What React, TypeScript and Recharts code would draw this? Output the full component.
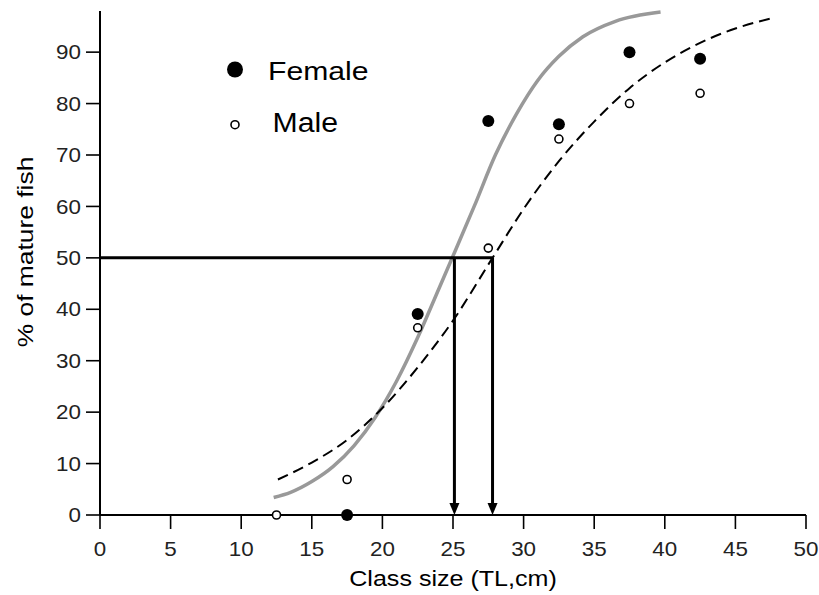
import { ComposedChart, Legend, Line, ReferenceLine, Scatter, XAxis, YAxis } from 'recharts'

const FONT = 'Liberation Sans, Arial, Helvetica, sans-serif'

const xTicks = [0, 5, 10, 15, 20, 25, 30, 35, 40, 45, 50]
const yTicks = [0, 10, 20, 30, 40, 50, 60, 70, 80, 90]

// observed % mature by 5 cm class
const femaleObs = [
  { x: 17.5, y: 0 },
  { x: 22.5, y: 39.1 },
  { x: 27.5, y: 76.6 },
  { x: 32.5, y: 76 },
  { x: 37.5, y: 90 },
  { x: 42.5, y: 88.7 },
]
const maleObs = [
  { x: 12.5, y: 0 },
  { x: 17.5, y: 6.9 },
  { x: 22.5, y: 36.4 },
  { x: 27.5, y: 51.9 },
  { x: 32.5, y: 73.1 },
  { x: 37.5, y: 80 },
  { x: 42.5, y: 82 },
]

// fitted curves
const femaleFit = [
  { x: 12.3, y: 3.4 },
  { x: 13.5, y: 4.4 },
  { x: 15, y: 6.5 },
  { x: 16.5, y: 9.4 },
  { x: 18, y: 13.5 },
  { x: 19.5, y: 19 },
  { x: 21, y: 26 },
  { x: 22.5, y: 34.5 },
  { x: 24, y: 44 },
  { x: 25.1, y: 51 },
  { x: 26.5, y: 60 },
  { x: 28, y: 70 },
  { x: 29.5, y: 78 },
  { x: 31, y: 84.5 },
  { x: 32.5, y: 89.2 },
  { x: 34.2, y: 93 },
  { x: 36.5, y: 96 },
  { x: 39.7, y: 97.8 },
]
const maleFit = [
  { x: 12.6, y: 6.9 },
  { x: 15, y: 10.2 },
  { x: 17.5, y: 14.6 },
  { x: 20, y: 20.8 },
  { x: 22.5, y: 28.7 },
  { x: 25, y: 37.8 },
  { x: 27.8, y: 50 },
  { x: 30, y: 59.5 },
  { x: 32.5, y: 68.8 },
  { x: 35, y: 76.5 },
  { x: 37.5, y: 83 },
  { x: 40, y: 88 },
  { x: 42.5, y: 91.8 },
  { x: 45, y: 94.6 },
  { x: 47.6, y: 96.6 },
]

const halfMature = 50
const l50Female = 25.1
const l50Male = 27.8

const XTick = ({ x, y, payload }: any) => (
  <g transform={`translate(${x},${y})`}>
    <text transform="scale(1.12,1)" textAnchor="middle" dy="0.72em" fontSize={20} fill="#222" fontFamily={FONT}>
      {payload.value}
    </text>
  </g>
)

const YTick = ({ x, y, payload }: any) => (
  <g transform={`translate(${x},${y})`}>
    <text transform="scale(1.12,1)" textAnchor="end" dy="0.36em" fontSize={20} fill="#222" fontFamily={FONT}>
      {payload.value}
    </text>
  </g>
)

const XTitle = ({ viewBox }: any) => {
  const vb = viewBox || { x: 100, y: 515, width: 706, height: 60 }
  return (
    <text
      transform={`translate(${vb.x + vb.width / 2},${vb.y + 71}) scale(1.14,1)`}
      textAnchor="middle"
      fontSize={22}
      fill="#000"
      fontFamily={FONT}
    >
      Class size (TL,cm)
    </text>
  )
}

const YTitle = ({ viewBox }: any) => {
  const vb = viewBox || { x: 40, y: 11, width: 60, height: 504 }
  return (
    <text
      transform={`translate(${vb.x - 7},${vb.y + vb.height / 2 - 11}) rotate(-90) scale(1.2,1)`}
      textAnchor="middle"
      fontSize={22}
      fill="#000"
      fontFamily={FONT}
    >
      % of mature fish
    </text>
  )
}

const Arrow = (p: any) => {
  const { x1, y1, x2, y2 } = p
  const top = Math.min(y1, y2)
  const bottom = Math.max(y1, y2)
  return (
    <g>
      <line x1={x1} y1={top} x2={x2} y2={bottom - 10} stroke="#000" strokeWidth={3} />
      <polygon points={`${x1 - 5},${bottom - 12} ${x1 + 5},${bottom - 12} ${x1},${bottom}`} fill="#000" />
    </g>
  )
}

const FemaleDot = (p: any) => <circle cx={p.cx} cy={p.cy} r={6} fill="#000" />
const MaleDot = (p: any) => <circle cx={p.cx} cy={p.cy} r={4} fill="#fff" stroke="#000" strokeWidth={1.6} />

const KeyBox = () => (
  <svg width={180} height={95} style={{ fontFamily: FONT }}>
    <circle cx={15} cy={14.5} r={8} fill="#000" />
    <text transform="translate(48,24.5) scale(1.16,1)" fontSize={26} fill="#000">
      Female
    </text>
    <circle cx={15} cy={69.7} r={4} fill="#fff" stroke="#000" strokeWidth={1.6} />
    <text transform="translate(52.5,77) scale(1.12,1)" fontSize={27} fill="#000">
      Male
    </text>
  </svg>
)

export default function App() {
  return (
    <div style={{ position: 'absolute', left: 0, top: 0 }}>
      <ComposedChart width={819} height={595} margin={{ top: 11, right: 13, bottom: 20, left: 40 }}>
        <XAxis
          type="number"
          dataKey="x"
          domain={[0, 50]}
          ticks={xTicks}
          height={60}
          tickSize={14}
          tickMargin={13}
          tick={<XTick />}
          axisLine={{ stroke: '#000', strokeWidth: 2 }}
          tickLine={{ stroke: '#000', strokeWidth: 1.6 }}
          label={{ content: XTitle }}
        />
        <YAxis
          type="number"
          dataKey="y"
          domain={[0, 98]}
          ticks={yTicks}
          width={60}
          tickSize={14}
          tickMargin={5}
          tick={<YTick />}
          axisLine={{ stroke: '#000', strokeWidth: 2 }}
          tickLine={{ stroke: '#000', strokeWidth: 1.6 }}
          label={{ content: YTitle }}
        />
        <Line
          data={femaleFit}
          dataKey="y"
          type="monotone"
          stroke="#999"
          strokeWidth={3.5}
          dot={false}
          activeDot={false}
          isAnimationActive={false}
        />
        <Line
          data={maleFit}
          dataKey="y"
          type="monotone"
          stroke="#000"
          strokeWidth={2}
          strokeDasharray="11 6"
          dot={false}
          activeDot={false}
          isAnimationActive={false}
        />
        <ReferenceLine
          segment={[
            { x: 0, y: halfMature },
            { x: l50Male, y: halfMature },
          ]}
          stroke="#000"
          strokeWidth={3}
        />
        <ReferenceLine
          segment={[
            { x: l50Female, y: halfMature },
            { x: l50Female, y: 0 },
          ]}
          shape={Arrow}
        />
        <ReferenceLine
          segment={[
            { x: l50Male, y: halfMature },
            { x: l50Male, y: 0 },
          ]}
          shape={Arrow}
        />
        <Scatter data={femaleObs} dataKey="y" shape={FemaleDot} isAnimationActive={false} />
        <Scatter data={maleObs} dataKey="y" shape={MaleDot} isAnimationActive={false} />
        <Legend
          layout="horizontal"
          verticalAlign="middle"
          align="center"
          content={KeyBox}
          wrapperStyle={{ position: 'absolute', left: 220, top: 55, width: 180, height: 95 }}
        />
      </ComposedChart>
    </div>
  )
}
